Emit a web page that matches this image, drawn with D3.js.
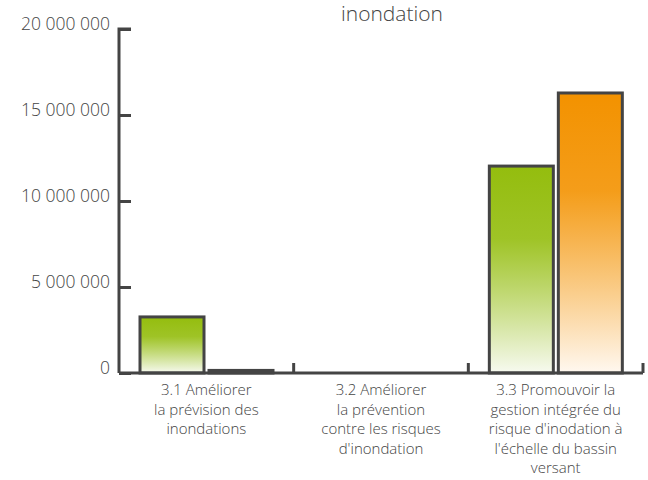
<!DOCTYPE html>
<html>
<head>
<meta charset="utf-8">
<script src="https://cdn.jsdelivr.net/npm/d3@7"></script>
<style>
  body { margin: 0; background: #fff; }
  text { font-family: "Open Sans", "Noto Sans", sans-serif; font-weight: 300; fill: #444; }
</style>
</head>
<body>
<div id="chart"></div>
<script>
// data
var categories = [
    ["3.1 Améliorer", "la prévision des", "inondations"],
    ["3.2 Améliorer", "la prévention", "contre les risques", "d'inondation"],
    ["3.3 Promouvoir la", "gestion intégrée du", "risque d'inodation à", "l'échelle du bassin", "versant"]
];
var seriesGreen = [3260000, 0, 12030000];
var seriesOrange = [150000, 0, 16280000];
var yTicks = [0, 5000000, 10000000, 15000000, 20000000];
var yTickLabels = ["0", "5 000 000", "10 000 000", "15 000 000", "20 000 000"];
var titleText = "inondation";

var width = 648, height = 480;
var margin = { top: 29, right: 5, bottom: 107, left: 119 };

var svg = d3.select("#chart")
    .append("svg")
    .attr("width", width)
    .attr("height", height);

var defs = svg.append("defs");
function grad(id, top, bottom) {
    var g = defs.append("linearGradient").attr("id", id)
        .attr("x1", 0).attr("y1", 0).attr("x2", 0).attr("y2", 1);
    g.append("stop").attr("offset", "0%").attr("stop-color", top);
    g.append("stop").attr("offset", "35%").attr("stop-color", top).attr("stop-opacity", 0.9);
    g.append("stop").attr("offset", "100%").attr("stop-color", bottom);
}
grad("gGreen", "#94bd0e", "#f7faf0");
grad("gOrange", "#f39200", "#fff8f0");

var x = d3.scaleBand()
    .domain(d3.range(categories.length))
    .range([margin.left, width - margin.right])
    .paddingInner(0).paddingOuter(0);

var y = d3.scaleLinear()
    .domain([0, 20000000])
    .range([height - margin.bottom, margin.top]);

// title (cut off in the original)
svg.append("text")
    .attr("x", 392).attr("y", 21)
    .attr("text-anchor", "middle")
    .style("font-size", "21px")
    .text(titleText);

// bars
var bw = x.bandwidth();
var inner = 21, barW = 64, gap = 5;
var rows = categories.map(function (c, i) {
    return { i: i, green: seriesGreen[i], orange: seriesOrange[i] };
});

svg.selectAll(".barG")
    .data(rows.filter(function (d) { return d.green > 0; }))
    .join("rect")
    .attr("class", "barG")
    .attr("x", function (d) { return x(d.i) + inner; })
    .attr("y", function (d) { return y(d.green); })
    .attr("width", barW)
    .attr("height", function (d) { return y(0) - y(d.green); })
    .attr("fill", "url(#gGreen)")
    .attr("stroke", "#444")
    .attr("stroke-width", 3);

svg.selectAll(".barO")
    .data(rows.filter(function (d) { return d.orange > 0; }))
    .join("rect")
    .attr("class", "barO")
    .attr("x", function (d) { return x(d.i) + inner + barW + gap; })
    .attr("y", function (d) { return y(d.orange); })
    .attr("width", barW)
    .attr("height", function (d) { return y(0) - y(d.orange); })
    .attr("fill", "url(#gOrange)")
    .attr("stroke", "#444")
    .attr("stroke-width", 3);

// y axis
var yAxis = svg.append("g")
    .attr("transform", "translate(" + margin.left + ",0)")
    .call(d3.axisRight(y).tickValues(yTicks).tickSize(12).tickFormat(""));
yAxis.select(".domain").attr("stroke", "#444").attr("stroke-width", 3)
    .attr("d", "M" + 12 + "," + y(20000000) + "H0V" + y(0));
yAxis.selectAll(".tick line").attr("stroke", "#444").attr("stroke-width", 3);

svg.selectAll(".ylab")
    .data(yTicks)
    .join("text")
    .attr("class", "ylab")
    .attr("x", 110)
    .attr("y", function (d) { return y(d) + 1; })
    .attr("text-anchor", "end")
    .style("font-size", "17.5px")
    .text(function (d, i) { return yTickLabels[i]; });

// x axis
var xAxis = svg.append("g")
    .attr("transform", "translate(0," + y(0) + ")");
xAxis.append("line")
    .attr("x1", margin.left).attr("x2", width - margin.right)
    .attr("stroke", "#444").attr("stroke-width", 3);
xAxis.selectAll(".xt")
    .data(d3.range(1, categories.length + 1))
    .join("line")
    .attr("class", "xt")
    .attr("x1", function (d) { return margin.left + d * bw; })
    .attr("x2", function (d) { return margin.left + d * bw; })
    .attr("y1", 0).attr("y2", -10)
    .attr("stroke", "#444").attr("stroke-width", 3);

var lab = svg.selectAll(".xlab")
    .data(categories)
    .join("text")
    .attr("class", "xlab")
    .attr("text-anchor", "middle")
    .attr("transform", function (d, i) { return "translate(" + (x(i) + bw / 2) + "," + (y(0) + 22) + ")"; })
    .style("font-size", "15px");
lab.selectAll("tspan")
    .data(function (d) { return d; })
    .join("tspan")
    .attr("x", 0)
    .attr("dy", function (d, j) { return j === 0 ? 0 : 19.5; })
    .text(function (d) { return d; });
</script>
</body>
</html>
